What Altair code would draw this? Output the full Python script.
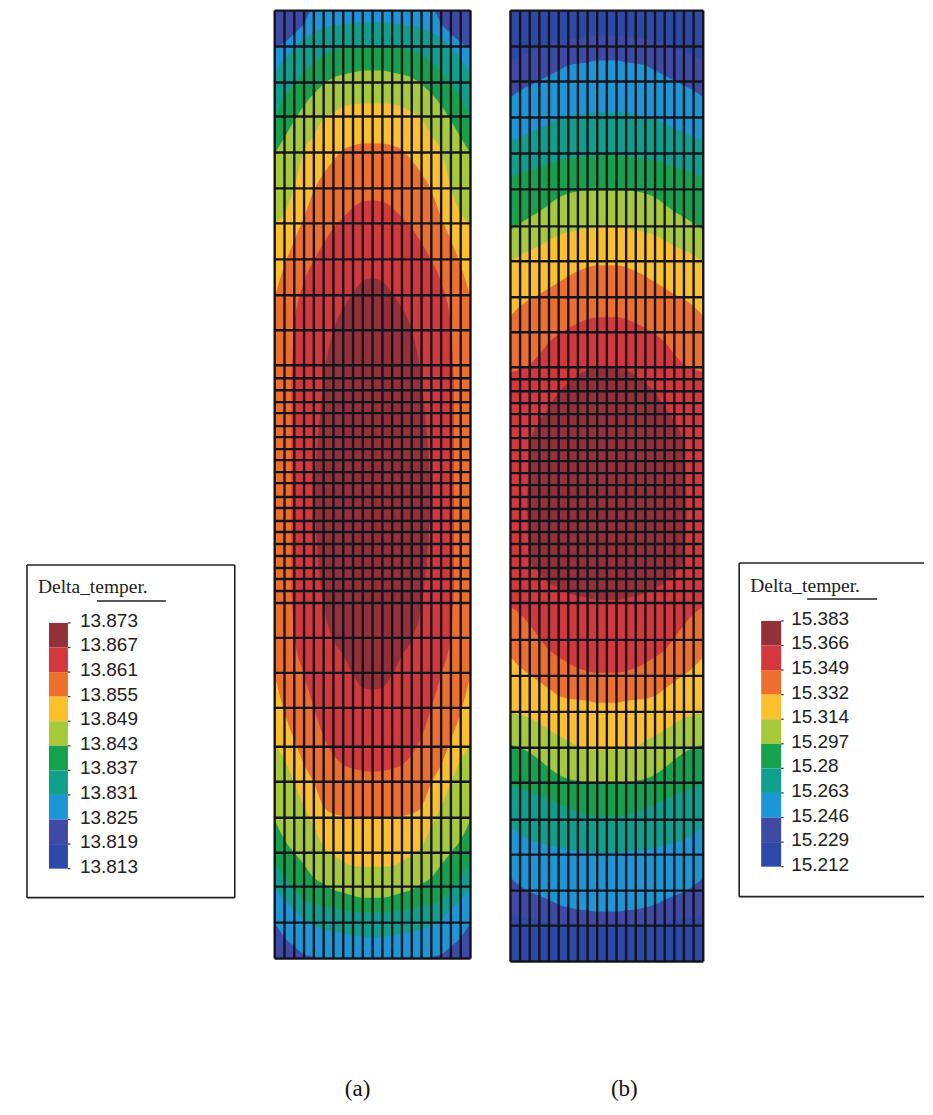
import altair as alt
import pandas as pd

# ---------- values ----------
BANDS = ["navy", "indigo", "blue", "teal", "green", "lime", "yellow", "orange", "red", "dark"]
COLORS = ["#2e4aa8", "#3f4aa6", "#1b96d6", "#0fa08c", "#14a34c", "#a6c93a", "#fbc02a", "#ee6f2c", "#d5383c", "#93303a"]

GRID = list(range(11))                    # distance from the axis, in mesh columns
COLUMNS = list(range(21))

A_ROWS = [10, 46, 82, 116, 152, 188, 223, 259, 295, 330, 365, 378, 390, 402, 413, 426, 437, 449, 460, 472, 483,
          497, 508, 521, 532, 544, 556, 568, 579, 591, 603, 638, 673, 708, 747, 782, 818, 853, 887, 923, 959]
B_ROWS = [10, 46, 81, 117, 153, 189, 226, 261, 297, 332, 367, 379, 391, 403, 414, 426, 438, 450, 461, 473, 485,
          497, 509, 521, 532, 544, 556, 568, 579, 591, 603, 640, 676, 712, 748, 783, 820, 855, 891, 926, 962]

A_BLUE = ([0, 1, 2, 3, 4, 5, 6, 6.2, 7, 8, 9, 10],
          [10, 10, 10, 10, 10, 10, 10, 10, 23, 33, 42, 47],
          [959, 959, 959, 959, 959, 959, 959, 957, 955, 947, 938, 923])
A_TEAL = (GRID, [22, 22, 23, 24, 25, 27, 32, 38, 47, 58, 73], [938, 937, 936, 934, 932, 930, 926, 920, 910, 900, 888])
A_GREEN = (GRID, [45, 45, 46, 48, 50, 55, 62, 72, 83, 97, 117], [913, 913, 912, 911, 909, 907, 904, 900, 890, 877, 863])
A_LIME = (GRID, [70, 70, 72, 74, 77, 84, 93, 105, 120, 137, 153], [898, 898, 896, 893, 890, 884, 878, 865, 853, 840, 820])
A_YELLOW = (GRID, [103, 103, 104, 106, 112, 118, 135, 150, 187, 213, 223], [867, 867, 866, 862, 855, 847, 827, 807, 783, 760, 745])
A_ORANGE = (GRID, [143, 143, 145, 149, 160, 173, 190, 217, 240, 265, 297], [818, 818, 817, 816, 814, 807, 783, 765, 740, 713, 675])
A_RED = ([0, 1, 2, 3, 4, 5, 6, 7, 8, 8.3],
         [200, 201, 207, 217, 228, 243, 260, 282, 325, 380],
         [772, 771, 769, 765, 755, 737, 708, 675, 635, 590])
A_DARK = ([0, 1, 2, 3, 4, 5, 5.6, 5.9, 6],
          [278, 281, 293, 308, 330, 380, 440, 480, 495],
          [690, 688, 675, 655, 640, 605, 555, 510, 495])

B_INDIGO = (GRID, [35, 35, 36, 37, 38, 40, 43, 47, 52, 56, 60], [928, 928, 928, 927, 926, 925, 923, 921, 919, 917, 915])
B_BLUE = (GRID, [60, 60, 62, 63, 65, 70, 75, 80, 85, 90, 97], [912, 912, 911, 910, 908, 905, 900, 896, 892, 886, 878])
B_TEAL = (GRID, [112, 112, 113, 114, 116, 118, 123, 128, 132, 137, 140], [853, 853, 852, 851, 850, 848, 846, 843, 840, 834, 827])
B_GREEN = (GRID, [155, 155, 156, 157, 158, 160, 163, 167, 170, 173, 177], [817, 817, 815, 812, 808, 804, 800, 795, 792, 788, 785])
B_LIME = (GRID, [190, 190, 190, 191, 193, 197, 204, 211, 217, 223, 230], [782, 782, 782, 781, 779, 775, 768, 760, 753, 748, 745])
B_YELLOW = (GRID, [227, 227, 228, 230, 232, 235, 240, 246, 250, 255, 262], [750, 750, 749, 747, 741, 736, 730, 724, 718, 715, 713])
B_ORANGE = (GRID, [265, 265, 267, 271, 276, 282, 288, 294, 299, 306, 316], [703, 703, 701, 700, 699, 696, 689, 682, 675, 667, 657])
B_RED = (GRID, [317, 317, 319, 323, 328, 334, 342, 354, 364, 369, 372], [673, 673, 671, 668, 663, 657, 650, 638, 625, 614, 607])
B_DARK = ([0, 1, 2, 3, 4, 5, 6, 7, 8, 8.3],
          [368, 368, 370, 375, 383, 392, 407, 421, 445, 510],
          [600, 600, 598, 596, 593, 588, 583, 573, 560, 510])

A_LABELS = ["13.873", "13.867", "13.861", "13.855", "13.849", "13.843", "13.837", "13.831", "13.825", "13.819", "13.813"]
B_LABELS = ["15.383", "15.366", "15.349", "15.332", "15.314", "15.297", "15.28", "15.263", "15.246", "15.229", "15.212"]
LEGEND_TITLE = "Delta_temper."

# ---------- layout ----------
Y_SCALE = alt.Scale(domain=[8, 1107], reverse=True)
LINE = "#14141c"
PANEL_H = 1099


def y_enc(f="y"):
    return alt.Y(f"{f}:Q", scale=Y_SCALE, axis=None)


def region(name, rows, xs):
    d, top, bottom = rows
    recs = []
    for di, t, b in zip(d, top, bottom):
        recs.append({"x": 10 - di, "y": t, "y2": b})
        if di > 0:
            recs.append({"x": 10 + di, "y": t, "y2": b})
    df = pd.DataFrame(recs).sort_values("x")
    df["band"] = name
    return alt.Chart(df).mark_area(interpolate="monotone").encode(
        x=alt.X("x:Q", scale=xs, axis=None),
        y=y_enc(),
        y2="y2:Q",
        color=alt.Color("band:N", scale=alt.Scale(domain=BANDS, range=COLORS), legend=None),
    )


def mesh(regions, base, rows, xs, width, caption, caption_x):
    top, bottom = rows[0], rows[-1]
    base_df = pd.DataFrame({"x": [0], "x2": [20], "y": [top], "y2": [bottom], "band": [base]})
    layers = [alt.Chart(base_df).mark_rect().encode(
        x=alt.X("x:Q", scale=xs, axis=None), x2="x2:Q", y=y_enc(), y2="y2:Q",
        color=alt.Color("band:N", scale=alt.Scale(domain=BANDS, range=COLORS), legend=None))]
    layers += [region(n, r, xs) for n, r in regions]
    vdf = pd.DataFrame({"x": COLUMNS, "y": top, "y2": bottom})
    hdf = pd.DataFrame({"y": rows, "x": 0, "x2": 20})
    layers.append(alt.Chart(vdf).mark_rule(color=LINE, strokeWidth=2.4).encode(
        x=alt.X("x:Q", scale=xs, axis=None), y=y_enc(), y2="y2:Q"))
    layers.append(alt.Chart(hdf).mark_rule(color=LINE, strokeWidth=2.4).encode(
        x=alt.X("x:Q", scale=xs, axis=None), x2="x2:Q", y=y_enc()))
    cap = pd.DataFrame({"x": [caption_x], "y": [1090], "t": [caption]})
    layers.append(alt.Chart(cap).mark_text(font="Liberation Serif", fontSize=23, color="#111", baseline="middle").encode(
        x=alt.X("x:Q", scale=xs, axis=None), y=y_enc(), text="t:N"))
    return alt.layer(*layers).properties(width=width, height=PANEL_H)


def legend(labels, span, width, box, bar, tick_top, tick_h, label_x, label_dy, title_pos, underline):
    xs = alt.Scale(domain=span)
    X = alt.X("x:Q", scale=xs, axis=None)
    layers = []
    step = tick_h / (len(labels) - 1)
    rows = [{"x": bar[0], "x2": bar[1], "y": tick_top + i * step, "y2": tick_top + (i + 1) * step, "band": b}
            for i, b in enumerate(reversed(BANDS))]
    layers.append(alt.Chart(pd.DataFrame(rows)).mark_rect().encode(
        x=X, x2="x2:Q", y=y_enc(), y2="y2:Q",
        color=alt.Color("band:N", scale=alt.Scale(domain=BANDS, range=COLORS), legend=None)))
    ticks = pd.DataFrame({"x": bar[1], "x2": bar[1] + 2.5, "y": [tick_top + i * step for i in range(len(labels))]})
    layers.append(alt.Chart(ticks).mark_rule(color="#333", strokeWidth=1.2).encode(x=X, x2="x2:Q", y=y_enc()))
    txt = pd.DataFrame({"x": label_x, "y": [tick_top + i * step + label_dy for i in range(len(labels))], "t": labels})
    layers.append(alt.Chart(txt).mark_text(font="Liberation Sans", fontSize=19, color="#222", align="left", baseline="middle").encode(
        x=X, y=y_enc(), text="t:N"))
    ttl = pd.DataFrame({"x": [title_pos[0]], "y": [title_pos[1]], "t": [LEGEND_TITLE]})
    layers.append(alt.Chart(ttl).mark_text(font="Liberation Serif", fontSize=19.5, color="#222", align="left", baseline="alphabetic").encode(
        x=X, y=y_enc(), text="t:N"))
    ul = pd.DataFrame({"x": [underline[0]], "x2": [underline[1]], "y": [underline[2]]})
    layers.append(alt.Chart(ul).mark_rule(color="#222", strokeWidth=1.5).encode(x=X, x2="x2:Q", y=y_enc()))
    # frame
    x0, x1, y0, y1, closed = box
    hb = pd.DataFrame({"x": x0, "x2": x1, "y": [y0, y1]})
    vx = [x0, x1] if closed else [x0]
    vb = pd.DataFrame({"x": vx, "y": y0, "y2": y1})
    layers.append(alt.Chart(hb).mark_rule(color="#222", strokeWidth=1.6).encode(x=X, x2="x2:Q", y=y_enc()))
    layers.append(alt.Chart(vb).mark_rule(color="#222", strokeWidth=1.6).encode(x=X, y=y_enc(), y2="y2:Q"))
    return alt.layer(*layers).properties(width=width, height=PANEL_H)


a_col, b_col = 9.8, 9.65
a_scale = alt.Scale(domain=[(270 - 275) / a_col, (506 - 275) / a_col])
b_scale = alt.Scale(domain=[(506 - 511) / b_col, (733 - 511) / b_col])

panel_a = mesh([("blue", A_BLUE), ("teal", A_TEAL), ("green", A_GREEN), ("lime", A_LIME), ("yellow", A_YELLOW),
                ("orange", A_ORANGE), ("red", A_RED), ("dark", A_DARK)],
               "indigo", A_ROWS, a_scale, 236, "(a)", (358 - 275) / a_col)
panel_b = mesh([("indigo", B_INDIGO), ("blue", B_BLUE), ("teal", B_TEAL), ("green", B_GREEN), ("lime", B_LIME),
                ("yellow", B_YELLOW), ("orange", B_ORANGE), ("red", B_RED), ("dark", B_DARK)],
               "navy", B_ROWS, b_scale, 227, "(b)", (625 - 511) / b_col)

legend_a = legend(A_LABELS, [8, 270], 262, (27, 235, 565, 898, True), (49, 68), 623, 246, 80, -2, (38, 593), (97, 166, 601))
legend_b = legend(B_LABELS, [733, 925], 192, (740, 925, 563, 897, False), (762, 782), 621, 246, 792, -2, (751, 592), (808, 878, 599))

chart = alt.hconcat(legend_a, panel_a, panel_b, legend_b, spacing=0).properties(padding=0).configure_view(stroke=None)
chart.save("out.html", embed_options={"renderer": "svg", "actions": False})
